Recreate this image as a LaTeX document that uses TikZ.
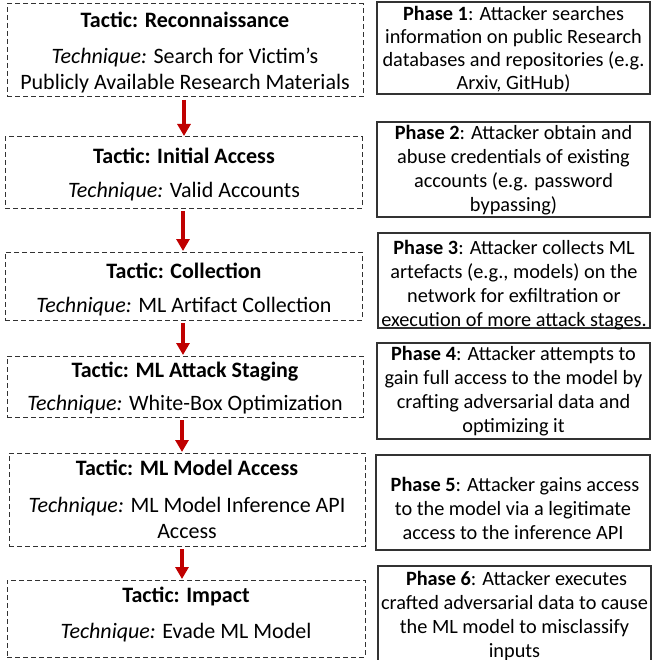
\documentclass[tikz,border=0pt]{standalone}
\usepackage{fontspec}
\setmainfont{Carlito}
\usetikzlibrary{arrows.meta}
\definecolor{arrred}{RGB}{192,0,0}
\definecolor{edge}{RGB}{50,50,50}
\tikzset{
  dbox/.style={draw=edge, line width=1pt, dash pattern=on 5pt off 3pt, inner sep=0pt, outer sep=0pt, anchor=north west},
  pbox/.style={draw=edge, line width=1.3pt, inner sep=0pt, outer sep=0pt, anchor=north west},
  ltxt/.style={anchor=base, inner sep=0pt, font=\fontsize{22}{26}\selectfont},
  rtxt/.style={anchor=base, inner sep=0pt, font=\fontsize{20.3}{24}\selectfont},
  arr/.style={draw=arrred, line width=4pt, -{Triangle[width=13pt,length=12pt]}, shorten <=3pt, shorten >=1pt}
}
\newcommand{\tech}{\textit{Technique:}}
\begin{document}
\begin{tikzpicture}[x=1pt,y=-1pt]
\useasboundingbox (0,0) rectangle (652,660);
% left dashed boxes
\node[dbox, minimum width=356pt, minimum height=93pt] (t1) at (7,4) {};
\node[dbox, minimum width=357pt, minimum height=71pt] (t2) at (5,137) {};
\node[dbox, minimum width=357pt, minimum height=68pt] (t3) at (5,252) {};
\node[dbox, minimum width=356pt, minimum height=61pt] (t4) at (7,356) {};
\node[dbox, minimum width=356pt, minimum height=93pt] (t5) at (9,453) {};
\node[dbox, minimum width=358pt, minimum height=77pt] (t6) at (7,580) {};
% left texts
\node[ltxt] (t1x) at (185,28) {\begin{tabular}[t]{@{}c@{}}\textbf{Tactic: Reconnaissance}\\[10pt]\tech{} Search for Victim’s\\Publicly Available Research Materials\end{tabular}};
\node[ltxt] (t2x) at (184,164) {\begin{tabular}[t]{@{}c@{}}\textbf{Tactic: Initial Access}\\[8pt]\tech{} Valid Accounts\end{tabular}};
\node[ltxt] (t3x) at (184,278) {\begin{tabular}[t]{@{}c@{}}\textbf{Tactic: Collection}\\[8pt]\tech{} ML Artifact Collection\end{tabular}};
\node[ltxt] (t4x) at (185,377) {\begin{tabular}[t]{@{}c@{}}\textbf{Tactic: ML Attack Staging}\\[7pt]\tech{} White-Box Optimization\end{tabular}};
\node[ltxt] (t5x) at (187,475) {\begin{tabular}[t]{@{}c@{}}\textbf{Tactic: ML Model Access}\\[11pt]\tech{} ML Model Inference API\\Access\end{tabular}};
\node[ltxt] (t6x) at (186,602) {\begin{tabular}[t]{@{}c@{}}\textbf{Tactic: Impact}\\[10pt]\tech{} Evade ML Model\end{tabular}};
% arrows
\draw[arr] (t1.south -| 184,0) -- (t2.north -| 184,0);
\draw[arr] (t2.south -| 183,0) -- (t3.north -| 183,0);
\draw[arr] (t3.south -| 183,0) -- (t4.north -| 183,0);
\draw[arr] (t4.south -| 182,0) -- (t5.north -| 182,0);
\draw[arr] (t5.south -| 182,0) -- (t6.north -| 182,0);
% right boxes
\node[pbox, minimum width=273pt, minimum height=92pt] (p1) at (377,2) {};
\node[pbox, minimum width=273pt, minimum height=95pt] (p2) at (377,122) {};
\node[pbox, minimum width=272pt, minimum height=95pt] (p3) at (378,233) {};
\node[pbox, minimum width=273pt, minimum height=96pt] (p4) at (377,343) {};
\node[pbox, minimum width=274pt, minimum height=95pt] (p5) at (376,455) {};
\node[pbox, minimum width=273pt, minimum height=130pt] (p6) at (378,566) {};
% right texts
\node[rtxt, font=\fontsize{20.3}{23}\selectfont] (p1x) at (513.5,21) {\begin{tabular}[t]{@{}c@{}}\textbf{Phase 1}: Attacker searches\\information on public Research\\databases and repositories (e.g.\\Arxiv, GitHub)\end{tabular}};
\node[rtxt] (p2x) at (513.5,140) {\begin{tabular}[t]{@{}c@{}}\textbf{Phase 2}: Attacker obtain and\\abuse credentials of existing\\accounts (e.g. password\\bypassing)\end{tabular}};
\node[rtxt] (p3x) at (514,254) {\begin{tabular}[t]{@{}c@{}}\textbf{Phase 3}: Attacker collects ML\\artefacts (e.g., models) on the\\network for exfiltration or\\execution of more attack stages.\end{tabular}};
\node[rtxt] (p4x) at (513.5,360) {\begin{tabular}[t]{@{}c@{}}\textbf{Phase 4}: Attacker attempts to\\gain full access to the model by\\crafting adversarial data and\\optimizing it\end{tabular}};
\node[rtxt] (p5x) at (513,491) {\begin{tabular}[t]{@{}c@{}}\hspace{4pt}\textbf{Phase 5}: Attacker gains access\\to the model via a legitimate\\access to the inference API\end{tabular}};
\node[rtxt] (p6x) at (514.5,585) {\begin{tabular}[t]{@{}c@{}}\hspace{4pt}\textbf{Phase 6}: Attacker executes\\crafted adversarial data to cause\\the ML model to misclassify\\inputs\end{tabular}};
\end{tikzpicture}
\end{document}
